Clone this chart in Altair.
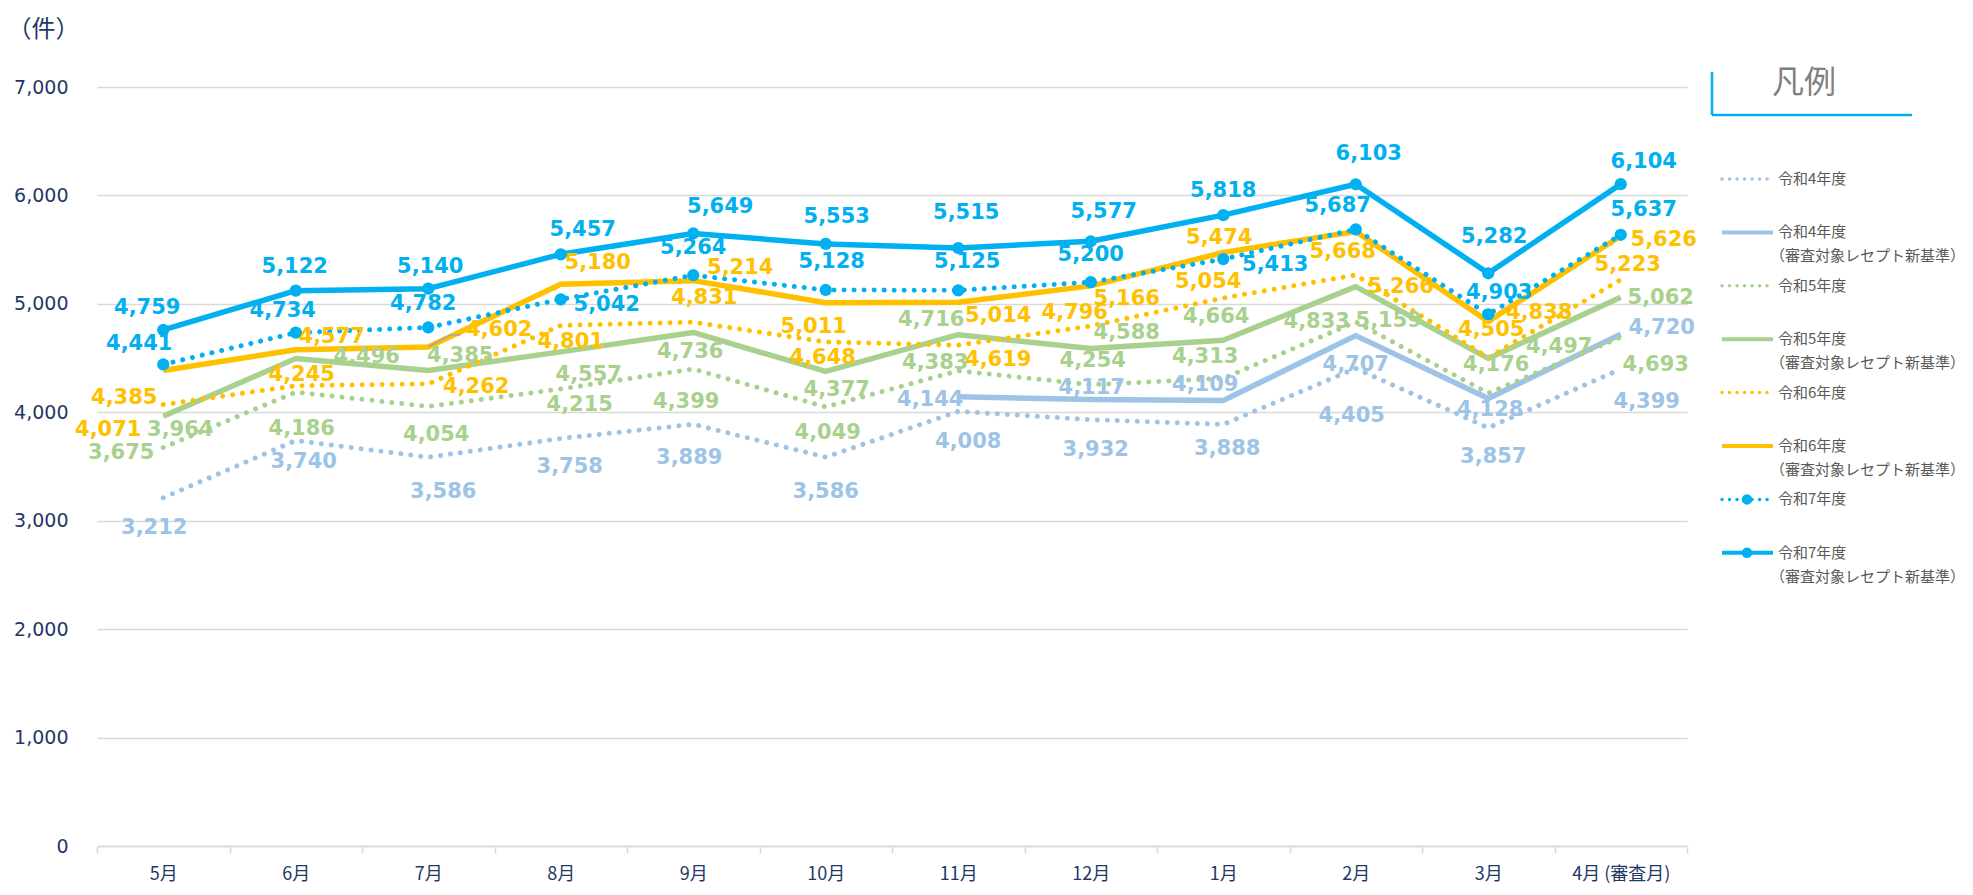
import altair as alt
import pandas as pd

# ---------------- data ----------------
months = ["5月", "6月", "7月", "8月", "9月", "10月", "11月", "12月", "1月", "2月", "3月", "4月 (審査月)"]

r4 = [3212, 3740, 3586, 3758, 3889, 3586, 4008, 3932, 3888, 4405, 3857, 4399]
r4_new = [None, None, None, None, None, None, 4144, 4117, 4109, 4707, 4128, 4720]
r5 = [3675, 4186, 4054, 4215, 4399, 4049, 4383, 4254, 4313, 4833, 4176, 4693]
r5_new = [3964, 4496, 4385, 4557, 4736, 4377, 4716, 4588, 4664, 5159, 4497, 5062]
r6 = [4071, 4245, 4262, 4801, 4831, 4648, 4619, 4796, 5054, 5266, 4505, 5223]
r6_new = [4385, 4577, 4602, 5180, 5214, 5011, 5014, 5166, 5474, 5668, 4838, 5626]
r7 = [4441, 4734, 4782, 5042, 5264, 5128, 5125, 5200, 5413, 5687, 4903, 5637]
r7_new = [4759, 5122, 5140, 5457, 5649, 5553, 5515, 5577, 5818, 6103, 5282, 6104]

legend_line1 = ["令和4年度", "令和4年度", "令和5年度", "令和5年度",
                "令和6年度", "令和6年度", "令和7年度", "令和7年度"]
legend_line2 = ["", "（審査対象レセプト新基準）", "", "（審査対象レセプト新基準）",
                "", "（審査対象レセプト新基準）", "", "（審査対象レセプト新基準）"]
series_values = [r4, r4_new, r5, r5_new, r6, r6_new, r7, r7_new]

# ---------------- styles ----------------
C4, C5, C6, C7 = "#9DC3E6", "#A9D18E", "#FFC000", "#00B0F0"
series_color = [C4, C4, C5, C5, C6, C6, C7, C7]
series_dotted = [True, False, True, False, True, False, True, False]
series_marker = [False, False, False, False, False, False, True, True]

# label nudges in pixels (dx, dy) relative to the data point
label_nudge = [
    [(-9, 30), (8, 22), (15, 35), (9, 28), (-4, 34), (0, 35), (10, 31), (5, 30), (4, 25), (-4, 48), (5, 29), (26, 33)],
    [None] * 6 + [(-28, 3), (1, -12), (-18, -15), (0, 29), (2, 12), (41, -6)],
    [(-42, 5), (6, 37), (8, 29), (19, 16), (-7, 33), (2, 26), (-23, -8), (2, -24), (-18, -21), (-39, 0), (8, -28), (35, 28)],
    [(17, 14), (71, -2), (32, -15), (28, 23), (-3, 20), (11, 19), (-27, -15), (36, -16), (-7, -23), (33, 34), (71, -11), (40, 1)],
    [(-55, 25), (6, -11), (48, 3), (10, 17), (11, -24), (-3, 16), (40, 15), (-16, -13), (-15, -16), (45, 12), (3, -28), (7, -15)],
    [(-39, 27), (36, -13), (71, -17), (37, -21), (47, -13), (-12, 24), (40, 14), (36, 13), (-4, -14), (-13, 21), (51, -8), (43, 4)],
    [(-24, -20), (-13, -22), (-5, -23), (46, 6), (0, -27), (6, -28), (9, -28), (0, -27), (52, 6), (-18, -23), (11, -21), (23, -25)],
    [(-16, -22), (-1, -24), (2, -22), (22, -24), (27, -26), (11, -27), (8, -35), (13, -29), (0, -24), (13, -30), (6, -36), (23, -22)],
]
# leader line for the moved label of 令和6年度（新基準） 7月: (series, month index, path nudges in px)
leader = (5, 2, [(0, 0), (22, -12), (32, -12)])

PLOT_W, PLOT_H = 1590, 759
Y_MAX = 7000
STEP = PLOT_W / len(months)
PX2VAL = Y_MAX / PLOT_H
AXIS_COLOR = "#1F3864"
GRID_COLOR = "#D9D9D9"

# legend geometry (pixels, relative to plot origin)
LEG_TOP, LEG_ROW = 92, 53.4

# ---------------- tables ----------------
rows = []
lab_rows = []
for si, vals in enumerate(series_values):
    for mi, v in enumerate(vals):
        if v is None:
            continue
        rows.append({"s": si, "month": months[mi], "value": v})
        ndx, ndy = label_nudge[si][mi]
        lab_rows.append({
            "s": si, "month": months[mi], "value": v,
            "dxp": ndx + STEP / 2,
            "ly": v - ndy * PX2VAL,
            "color": series_color[si],
        })
df = pd.DataFrame(rows)
lab = pd.DataFrame(lab_rows)

ls, lm, lpath = leader
lv = series_values[ls][lm]
lead = pd.DataFrame({
    "month": [months[lm]] * len(lpath),
    "order": list(range(len(lpath))),
    "dxp": [p[0] + STEP / 2 for p in lpath],
    "ly": [lv - p[1] * PX2VAL for p in lpath],
})

xscale = alt.Scale(type="band", domain=months, paddingInner=0, paddingOuter=0)
yscale = alt.Scale(domain=[0, Y_MAX], nice=False, zero=True)

x_axis = alt.Axis(
    tickBand="extent", domain=True, domainColor=GRID_COLOR, domainWidth=1.5,
    ticks=True, tickColor=GRID_COLOR, tickSize=7, tickWidth=1.5,
    labelFont="Noto Sans CJK JP", labelFontSize=18, labelColor=AXIS_COLOR,
    labelPadding=12, labelAngle=0, title=None, grid=False,
)
y_axis = alt.Axis(
    values=list(range(0, Y_MAX + 1, 1000)),
    labelExpr="format(datum.value, ',')",
    labelFont="DejaVu Sans", labelFontSize=19, labelColor=AXIS_COLOR,
    labelPadding=29, ticks=False, domain=False,
    grid=True, gridColor=GRID_COLOR, gridWidth=1.5,
    title="（件）", titleAngle=0, titleX=-54, titleY=-58, titleAlign="center",
    titleBaseline="middle", titleFontSize=24, titleFont="Noto Sans CJK JP",
    titleFontWeight="normal", titleColor=AXIS_COLOR,
)

X = alt.X("month:N", scale=xscale, axis=x_axis)


def Y(field):
    return alt.Y(field, type="quantitative", scale=yscale, axis=y_axis)


layers = []
for si in range(len(series_values)):
    d = df[df.s == si]
    if series_dotted[si]:
        mk = alt.Chart(d).mark_line(color=series_color[si], strokeWidth=5,
                                    strokeDash=[0.01, 10], strokeCap="round")
    else:
        mk = alt.Chart(d).mark_line(color=series_color[si], strokeWidth=5.5,
                                    strokeJoin="round")
    layers.append(mk.encode(x=X, y=Y("value")))

for si in range(len(series_values)):
    if series_marker[si]:
        d = df[df.s == si]
        layers.append(alt.Chart(d).mark_point(filled=True, size=150, opacity=1,
                                              color=series_color[si]).encode(x=X, y=Y("value")))

layers.append(alt.Chart(lead).mark_line(color="#A6A6A6", strokeWidth=1.5).encode(
    x=X, xOffset=alt.XOffset("dxp:Q", scale=None), y=Y("ly"), order="order:Q"))

labels = alt.Chart(lab).mark_text(
    font="DejaVu Sans", fontSize=21, fontWeight="bold", align="center", baseline="middle"
).encode(
    x=X,
    xOffset=alt.XOffset("dxp:Q", scale=None),
    y=Y("ly"),
    text=alt.Text("value:Q", format=","),
    color=alt.Color("color:N", scale=None),
)
layers.append(labels)

# ---------------- legend ----------------
leg = pd.DataFrame({
    "line1": legend_line1, "line2": legend_line2,
    "color": series_color, "dotted": series_dotted, "marker": series_marker,
    "py": [LEG_TOP + i * LEG_ROW for i in range(8)],
})
ly = alt.Y("py:Q", scale=None, axis=None)

leg_dot = alt.Chart(leg).transform_filter("datum.dotted").mark_rule(
    strokeWidth=3.5, strokeDash=[0.01, 7.5], strokeCap="round"
).encode(x=alt.value(1625), x2=alt.value(1676), y=ly, color=alt.Color("color:N", scale=None))
leg_solid = alt.Chart(leg).transform_filter("!datum.dotted").mark_rule(
    strokeWidth=4
).encode(x=alt.value(1625), x2=alt.value(1676), y=ly, color=alt.Color("color:N", scale=None))
leg_mark = alt.Chart(leg).transform_filter("datum.marker").mark_point(
    filled=True, size=110, opacity=1
).encode(x=alt.value(1650), y=ly, color=alt.Color("color:N", scale=None))
leg_t1 = alt.Chart(leg).mark_text(
    font="Noto Sans CJK JP", fontSize=15, color="#595959", align="left", baseline="middle"
).encode(x=alt.value(1681), y=ly, text="line1:N")
leg_t2 = alt.Chart(leg).mark_text(
    font="Noto Sans CJK JP", fontSize=15, color="#595959", align="left", baseline="middle", dy=24
).encode(x=alt.value(1673), y=ly, text="line2:N")

one = pd.DataFrame({"t": ["凡例"]})
leg_title = alt.Chart(one).mark_text(
    font="Noto Sans CJK JP", fontSize=32, color="#7F7F7F", align="center", baseline="middle"
).encode(x=alt.value(1707), y=alt.value(-4), text="t:N")
box_v = alt.Chart(one).mark_rule(color=C7, strokeWidth=2.5).encode(
    x=alt.value(1615), y=alt.value(-15), y2=alt.value(28))
box_h = alt.Chart(one).mark_rule(color=C7, strokeWidth=2.5).encode(
    x=alt.value(1615), x2=alt.value(1815), y=alt.value(28))

layers += [leg_dot, leg_solid, leg_mark, leg_t1, leg_t2, leg_title, box_v, box_h]

chart = alt.layer(*layers).properties(
    width=PLOT_W, height=PLOT_H,
    autosize=alt.AutoSizeParams(type="none"),
    padding={"left": 89, "top": 79, "right": 278, "bottom": 41},
    background="white",
).configure_view(stroke=None)

chart.save("out.html", embed_options={"renderer": "svg", "actions": False})
